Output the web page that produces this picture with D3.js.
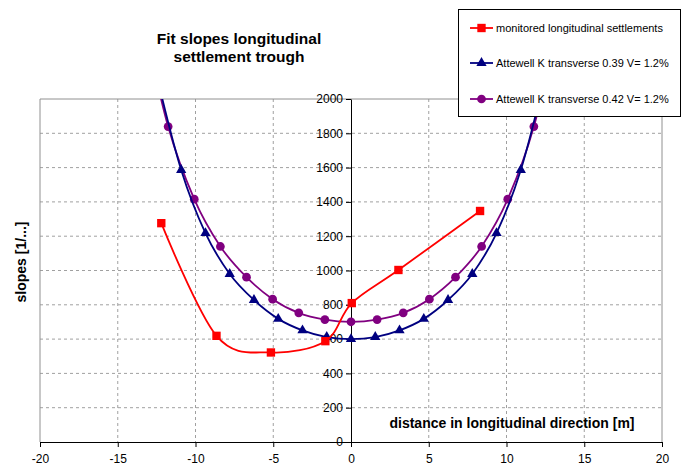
<!DOCTYPE html>
<html>
<head>
<meta charset="utf-8">
<script src="https://cdn.jsdelivr.net/npm/d3@7"></script>
<style>
  body { margin: 0; background: #fff; }
  svg { font-family: "Liberation Sans", Arial, sans-serif; }
</style>
</head>
<body>
<div id="chart"></div>
<script>
// monitored longitudinal settlements
const monX = [-12.2, -8.65, -5.15, -1.65, 0.05, 3.05, 8.3];
const monY = [1276, 619, 522, 588, 810, 1003, 1347];

// Attewell K 0.39 (points beyond the axes are clipped, as in the original)
const k39X = [-12.48, -10.92, -9.36, -7.8, -6.24, -4.68, -3.12, -1.56, 0, 1.56, 3.12, 4.68, 6.24, 7.8, 9.36, 10.92, 12.48];
const k39Y = [2130, 1586, 1218, 980, 828, 718, 651, 612, 600, 612, 651, 718, 828, 980, 1218, 1586, 2130];

// Attewell K 0.42
const k42X = [-13.44, -11.76, -10.08, -8.4, -6.72, -5.04, -3.36, -1.68, 0, 1.68, 3.36, 5.04, 6.72, 8.4, 10.08, 11.76, 13.44];
const k42Y = [2500, 1839, 1416, 1140, 961, 833, 753, 714, 701, 714, 753, 833, 961, 1140, 1416, 1839, 2500];

const xTicks = [-20, -15, -10, -5, 0, 5, 10, 15, 20];
const yTicks = [0, 200, 400, 600, 800, 1000, 1200, 1400, 1600, 1800, 2000];

const seriesNames = [
  "monitored longitudinal settlements",
  "Attewell K transverse 0.39 V= 1.2%",
  "Attewell K transverse 0.42 V= 1.2%"
];

const width = 689, height = 466;
const plotL = 40, plotR = 662, plotT = 99, plotB = 442;

const svg = d3.select('#chart').append('svg')
    .attr('width', width)
    .attr('height', height);

const x = d3.scaleLinear().domain([-20, 20]).range([plotL, plotR]);
const y = d3.scaleLinear().domain([0, 2000]).range([plotB, plotT]);

svg.append('defs').append('clipPath').attr('id', 'plot')
  .append('rect')
    .attr('x', plotL).attr('y', plotT)
    .attr('width', plotR - plotL).attr('height', plotB - plotT);

// grid
const grid = svg.append('g');
grid.selectAll('.hg')
  .data(yTicks.filter(d => d > 0 && d < 2000))
  .enter().append('line')
    .attr('x1', plotL).attr('x2', plotR)
    .attr('y1', d => y(d)).attr('y2', d => y(d))
    .attr('stroke', '#a0a0a0').attr('stroke-dasharray', '3,3');
grid.selectAll('.vg')
  .data(xTicks.filter(d => d > -20 && d < 20 && d !== 0))
  .enter().append('line')
    .attr('x1', d => x(d)).attr('x2', d => x(d))
    .attr('y1', plotT).attr('y2', plotB)
    .attr('stroke', '#a0a0a0').attr('stroke-dasharray', '3,3');

// plot frame
svg.append('path')
    .attr('d', `M${plotL},${plotB}V${plotT}H${plotR}V${plotB}`)
    .attr('fill', 'none').attr('stroke', '#909090');

// axes crossing at zero
const fmt = d => String(d);
const xAxis = d3.axisBottom(x).tickValues(xTicks).tickFormat(fmt)
    .tickSize(5).tickSizeOuter(0).tickPadding(7);
const gx = svg.append('g').attr('transform', `translate(0,${y(0)})`).call(xAxis);
const yAxis = d3.axisLeft(y).tickValues(yTicks).tickFormat(fmt)
    .tickSize(5).tickSizeOuter(0).tickPadding(3);
const gy = svg.append('g').attr('transform', `translate(${x(0)},0)`).call(yAxis);
[gx, gy].forEach(g => {
  g.select('.domain').attr('stroke', '#000');
  g.selectAll('.tick line').attr('stroke', '#000');
  g.selectAll('.tick text').attr('fill', '#000').style('font-size', '12px');
});

// series
const line = d3.line()
    .x(d => x(d[0]))
    .y(d => y(d[1]))
    .curve(d3.curveCardinal.tension(0));

const series = [
  { xs: monX, ys: monY, color: '#ff0000', marker: 'square' },
  { xs: k39X, ys: k39Y, color: '#000080', marker: 'triangle' },
  { xs: k42X, ys: k42Y, color: '#800080', marker: 'circle' }
];

const symbolFor = {
  square: d3.symbol().type(d3.symbolSquare).size(70),
  triangle: d3.symbol().type(d3.symbolTriangle).size(46),
  circle: d3.symbol().type(d3.symbolCircle).size(60)
};

const plot = svg.append('g').attr('clip-path', 'url(#plot)');
series.slice().reverse().forEach(s => {
  const pts = s.xs.map((v, i) => [v, s.ys[i]]);
  plot.append('path')
      .datum(pts)
      .attr('d', line)
      .attr('fill', 'none')
      .attr('stroke', s.color)
      .attr('stroke-width', 1.8);
  plot.selectAll(null)
    .data(pts.filter(p => p[1] <= 2000))
    .enter().append('path')
      .attr('d', symbolFor[s.marker]())
      .attr('transform', p => `translate(${x(p[0])},${y(p[1])})`)
      .attr('fill', s.color);
});

// title
const title = svg.append('text')
    .attr('text-anchor', 'middle')
    .style('font-size', '15.5px').style('font-weight', 'bold');
title.append('tspan').attr('x', 239).attr('y', 44).text('Fit slopes longitudinal');
title.append('tspan').attr('x', 239).attr('y', 62).text('settlement trough');

// axis titles
svg.append('text')
    .attr('transform', 'translate(21,262) rotate(-90)')
    .attr('text-anchor', 'middle')
    .attr('dy', '0.35em')
    .style('font-size', '14px').style('font-weight', 'bold')
    .text('slopes [1/...]');
svg.append('text')
    .attr('x', 512).attr('y', 428)
    .attr('text-anchor', 'middle')
    .style('font-size', '14px').style('font-weight', 'bold')
    .text('distance in longitudinal direction [m]');

// legend
const legend = svg.append('g');
legend.append('rect')
    .attr('x', 458.5).attr('y', 9.5)
    .attr('width', 222).attr('height', 107)
    .attr('fill', '#fff').attr('stroke', '#000');
const rows = [28, 63, 99];
series.forEach((s, i) => {
  const g = legend.append('g').attr('transform', `translate(0,${rows[i]})`);
  g.append('line').attr('x1', 470).attr('x2', 493)
      .attr('stroke', s.color).attr('stroke-width', 1.8);
  g.append('path').attr('d', symbolFor[s.marker]())
      .attr('transform', 'translate(481.5,0)')
      .attr('fill', s.color);
  g.append('text').attr('x', 496).attr('dy', '0.35em')
      .style('font-size', '11px')
      .text(seriesNames[i]);
});
</script>
</body>
</html>
